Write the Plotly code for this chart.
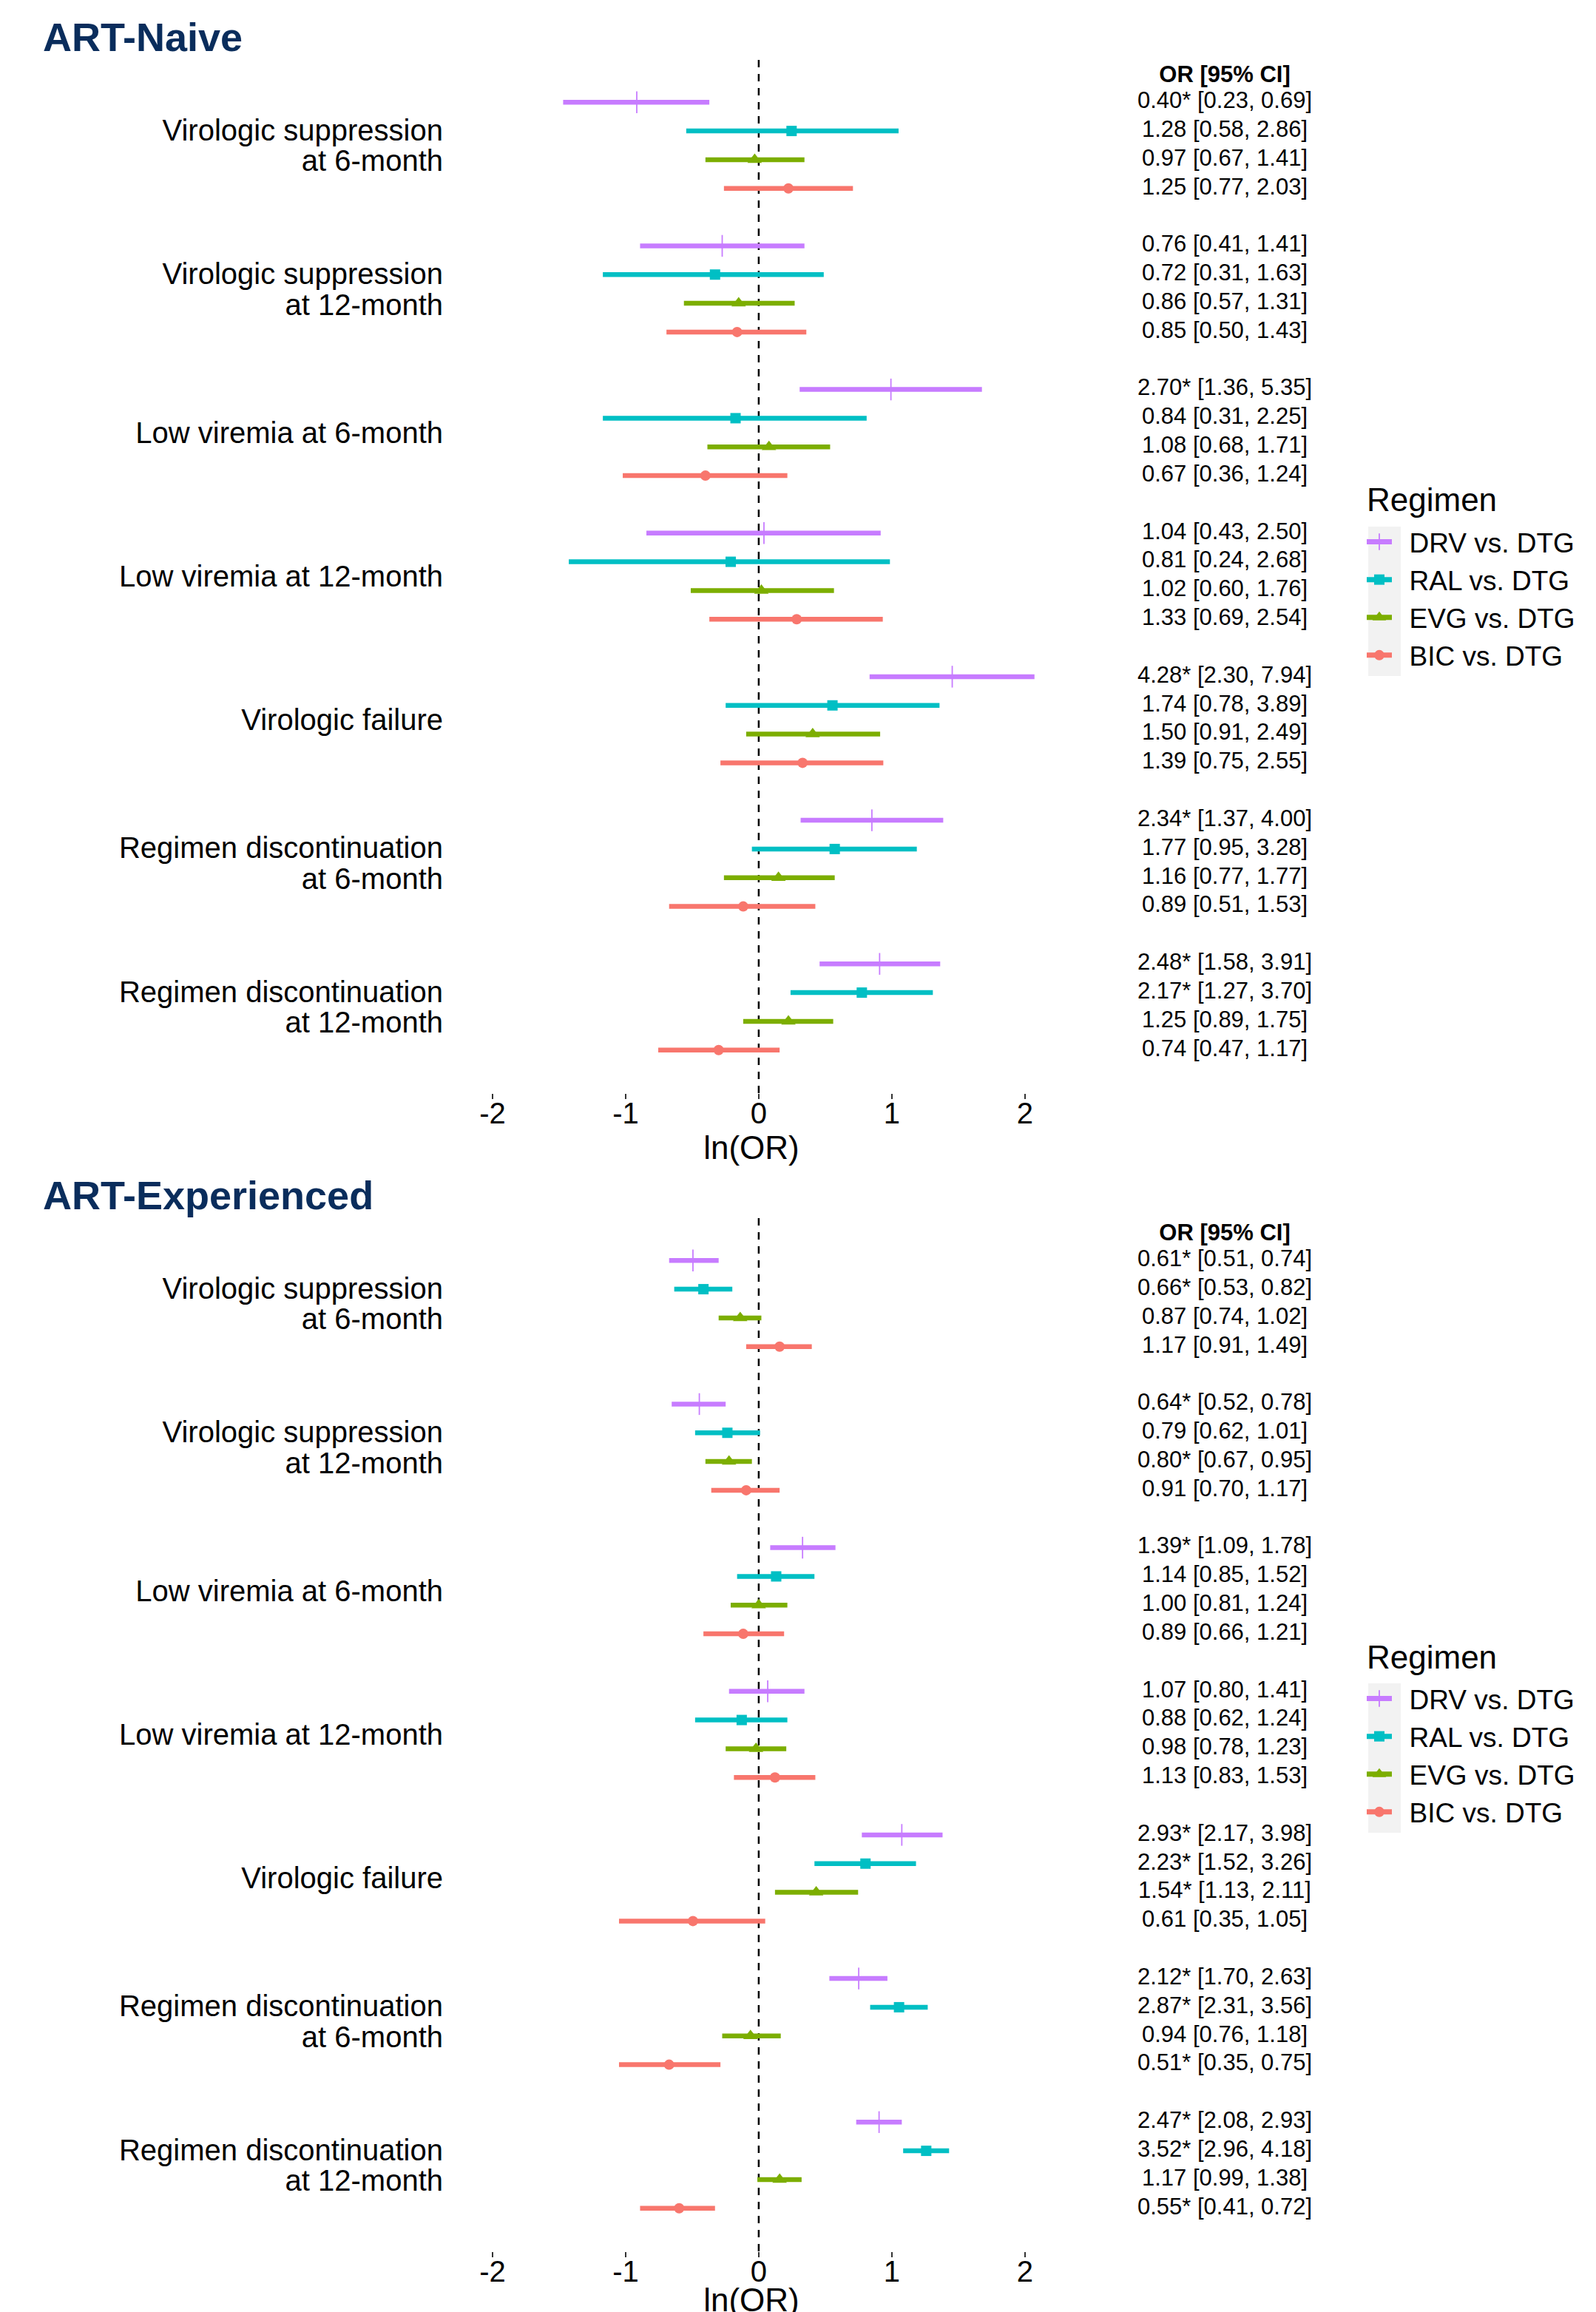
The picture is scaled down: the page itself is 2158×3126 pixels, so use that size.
import numpy as np
import plotly.graph_objects as go

# ---------------- data ----------------
outcomes = [
    "Virologic suppression<br>at 6-month",
    "Virologic suppression<br>at 12-month",
    "Low viremia at 6-month",
    "Low viremia at 12-month",
    "Virologic failure",
    "Regimen discontinuation<br>at 6-month",
    "Regimen discontinuation<br>at 12-month",
]
regimens = ["DRV vs. DTG", "RAL vs. DTG", "EVG vs. DTG", "BIC vs. DTG"]
panel_titles = ["ART-Naive", "ART-Experienced"]
legend_title = "Regimen"
x_tick_vals = [-2, -1, 0, 1, 2]
x_tick_text = ["-2", "-1", "0", "1", "2"]

# ART-Naive: odds ratios and 95% CI per regimen (one value per outcome)
naive_drv_or = [0.40, 0.76, 2.70, 1.04, 4.28, 2.34, 2.48]
naive_drv_lo = [0.23, 0.41, 1.36, 0.43, 2.30, 1.37, 1.58]
naive_drv_hi = [0.69, 1.41, 5.35, 2.50, 7.94, 4.00, 3.91]
naive_ral_or = [1.28, 0.72, 0.84, 0.81, 1.74, 1.77, 2.17]
naive_ral_lo = [0.58, 0.31, 0.31, 0.24, 0.78, 0.95, 1.27]
naive_ral_hi = [2.86, 1.63, 2.25, 2.68, 3.89, 3.28, 3.70]
naive_evg_or = [0.97, 0.86, 1.08, 1.02, 1.50, 1.16, 1.25]
naive_evg_lo = [0.67, 0.57, 0.68, 0.60, 0.91, 0.77, 0.89]
naive_evg_hi = [1.41, 1.31, 1.71, 1.76, 2.49, 1.77, 1.75]
naive_bic_or = [1.25, 0.85, 0.67, 1.33, 1.39, 0.89, 0.74]
naive_bic_lo = [0.77, 0.50, 0.36, 0.69, 0.75, 0.51, 0.47]
naive_bic_hi = [2.03, 1.43, 1.24, 2.54, 2.55, 1.53, 1.17]

# ART-Experienced
exp_drv_or = [0.61, 0.64, 1.39, 1.07, 2.93, 2.12, 2.47]
exp_drv_lo = [0.51, 0.52, 1.09, 0.80, 2.17, 1.70, 2.08]
exp_drv_hi = [0.74, 0.78, 1.78, 1.41, 3.98, 2.63, 2.93]
exp_ral_or = [0.66, 0.79, 1.14, 0.88, 2.23, 2.87, 3.52]
exp_ral_lo = [0.53, 0.62, 0.85, 0.62, 1.52, 2.31, 2.96]
exp_ral_hi = [0.82, 1.01, 1.52, 1.24, 3.26, 3.56, 4.18]
exp_evg_or = [0.87, 0.80, 1.00, 0.98, 1.54, 0.94, 1.17]
exp_evg_lo = [0.74, 0.67, 0.81, 0.78, 1.13, 0.76, 0.99]
exp_evg_hi = [1.02, 0.95, 1.24, 1.23, 2.11, 1.18, 1.38]
exp_bic_or = [1.17, 0.91, 0.89, 1.13, 0.61, 0.51, 0.55]
exp_bic_lo = [0.91, 0.70, 0.66, 0.83, 0.35, 0.35, 0.41]
exp_bic_hi = [1.49, 1.17, 1.21, 1.53, 1.05, 0.75, 0.72]

panels = [
    [(naive_drv_or, naive_drv_lo, naive_drv_hi),
     (naive_ral_or, naive_ral_lo, naive_ral_hi),
     (naive_evg_or, naive_evg_lo, naive_evg_hi),
     (naive_bic_or, naive_bic_lo, naive_bic_hi)],
    [(exp_drv_or, exp_drv_lo, exp_drv_hi),
     (exp_ral_or, exp_ral_lo, exp_ral_hi),
     (exp_evg_or, exp_evg_lo, exp_evg_hi),
     (exp_bic_or, exp_bic_lo, exp_bic_hi)],
]

# ---------------- styling ----------------
W, H = 2158, 3126
OFF = 8  # default page margin of the html body
FONT = "Liberation Sans, Arial, sans-serif"
colors = ["#C77CFF", "#00BFC4", "#7CAE00", "#F8766D"]
symbols = ["line-ns-open", "square", "triangle-up", "circle"]
msizes = [21, 14, 17, 14]
NAVY = "#0A2D5C"

def py(p):
    return 1 - (p - OFF) / H

def pxx(p):
    return (p - OFF) / W

panel_top_px = [80, 1646]
panel_bot_px = [1478, 3044]
panel_shift = [0, 1566]
legend_shift = [0, 1564]
x_dom = [pxx(612), pxx(1420)]
txt_dom = [pxx(1560), pxx(1752)]
GROUP_STEP = 5

fig = go.Figure()

tickvals_y, ticktext_y = [], []
for g, lab in enumerate(outcomes):
    lines = lab.split("<br>")
    c = g * GROUP_STEP + 1.5
    if len(lines) == 1:
        tickvals_y.append(c)
        ticktext_y.append(lines[0])
    else:
        tickvals_y += [c - 0.54, c + 0.54]
        ticktext_y += lines

for p in range(2):
    xa = "x" if p == 0 else "x2"
    ya = "y" if p == 0 else "y2"
    xt = "x3" if p == 0 else "x4"
    leg = "legend" if p == 0 else "legend2"
    text_y, text_s = [], []
    for r, (o, lo, hi) in enumerate(panels[p]):
        o = np.array(o); lo = np.array(lo); hi = np.array(hi)
        yy = np.arange(len(outcomes)) * GROUP_STEP + r
        lx = np.log(o)
        mk = dict(symbol=symbols[r], size=msizes[r], color=colors[r],
                  line=dict(width=1.8 if r == 0 else 0, color=colors[r]))
        fig.add_trace(go.Scatter(
            x=lx, y=yy, xaxis=xa, yaxis=ya, mode="markers", marker=mk,
            error_x=dict(type="data", symmetric=False,
                         array=np.log(hi) - lx, arrayminus=lx - np.log(lo),
                         thickness=6.5, width=0, color=colors[r]),
            showlegend=False, hoverinfo="skip"))
        fig.add_trace(go.Scatter(
            x=[None], y=[None], xaxis=xa, yaxis=ya, mode="lines+markers",
            name="\u2002" + regimens[r], legend=leg,
            line=dict(color=colors[r], width=7), marker=mk))
        for k in range(len(outcomes)):
            star = "*" if (lo[k] > 1 or hi[k] < 1) else ""
            text_y.append(yy[k])
            text_s.append(f"{o[k]:.2f}{star} [{lo[k]:.2f}, {hi[k]:.2f}]")
    text_y.append(-0.9)
    text_s.append("<b>OR [95% CI]</b>")
    fig.add_trace(go.Scatter(
        x=[0.5] * len(text_y), y=text_y, xaxis=xt, yaxis=ya, mode="text",
        text=text_s, textposition="middle center",
        textfont=dict(family=FONT, size=31, color="black"),
        cliponaxis=False, showlegend=False, hoverinfo="skip"))

    ydom = [py(panel_bot_px[p]), py(panel_top_px[p])]
    xkey = "xaxis" if p == 0 else "xaxis2"
    ykey = "yaxis" if p == 0 else "yaxis2"
    tkey = "xaxis3" if p == 0 else "xaxis4"
    fig.update_layout(**{
        xkey: dict(domain=x_dom, anchor=ya, range=[-2.3, 2.19],
                   tickvals=x_tick_vals, ticktext=x_tick_text,
                   ticks="outside", ticklen=7, tickwidth=2, tickcolor="#333333",
                   ticklabelstandoff=-15,
                   tickfont=dict(family=FONT, size=40, color="black"),
                   showgrid=False, zeroline=False, showline=False,
                   title=dict(text="ln(OR)", font=dict(family=FONT, size=44, color="black"),
                              standoff=0)),
        ykey: dict(domain=ydom, anchor=xa, range=[34.5, -1.5],
                   tickvals=tickvals_y, ticktext=ticktext_y, ticks="",
                   ticklabelstandoff=12,
                   tickfont=dict(family=FONT, size=40, color="black"),
                   showgrid=False, zeroline=False, showline=False),
        tkey: dict(domain=txt_dom, anchor=ya, range=[0, 1], visible=False),
    })
    fig.add_shape(type="line", xref=xa, yref=f"{ya} domain", x0=0, x1=0, y0=0, y1=1,
                  line=dict(color="black", width=2.5, dash="10px,9px"), layer="below")
    fig.add_annotation(text=f"<b>{panel_titles[p]}</b>", xref="paper", yref="paper",
                       x=pxx(56), y=py(50 + panel_shift[p]), xanchor="left", yanchor="middle",
                       showarrow=False, font=dict(family=FONT, size=54, color=NAVY))
    # legend title
    fig.add_annotation(text=legend_title, xref="paper", yref="paper",
                       x=pxx(1846), y=py(676 + legend_shift[p]), xanchor="left", yanchor="middle",
                       showarrow=False, font=dict(family=FONT, size=44, color="black"))
    # grey background behind legend keys
    fig.add_shape(type="rect", xref="paper", yref="paper",
                  x0=pxx(1850), x1=pxx(1894),
                  y0=py(914 + legend_shift[p]), y1=py(712 + legend_shift[p]),
                  fillcolor="#F2F2F2", line=dict(width=0), layer="below")

legend_common = dict(
    xanchor="left", yanchor="top", bgcolor="rgba(0,0,0,0)", borderwidth=0,
    font=dict(family=FONT, size=37, color="black"),
    tracegroupgap=0, itemwidth=34,
)
fig.update_layout(
    width=W, height=H, autosize=False,
    margin=dict(l=0, r=0, t=0, b=0),
    paper_bgcolor="white", plot_bgcolor="white",
    font=dict(family=FONT, color="black"),
    legend=dict(x=pxx(1843), y=py(702), **legend_common),
    legend2=dict(x=pxx(1843), y=py(702 + legend_shift[1]), **legend_common),
)

fig.write_html("out.html")
